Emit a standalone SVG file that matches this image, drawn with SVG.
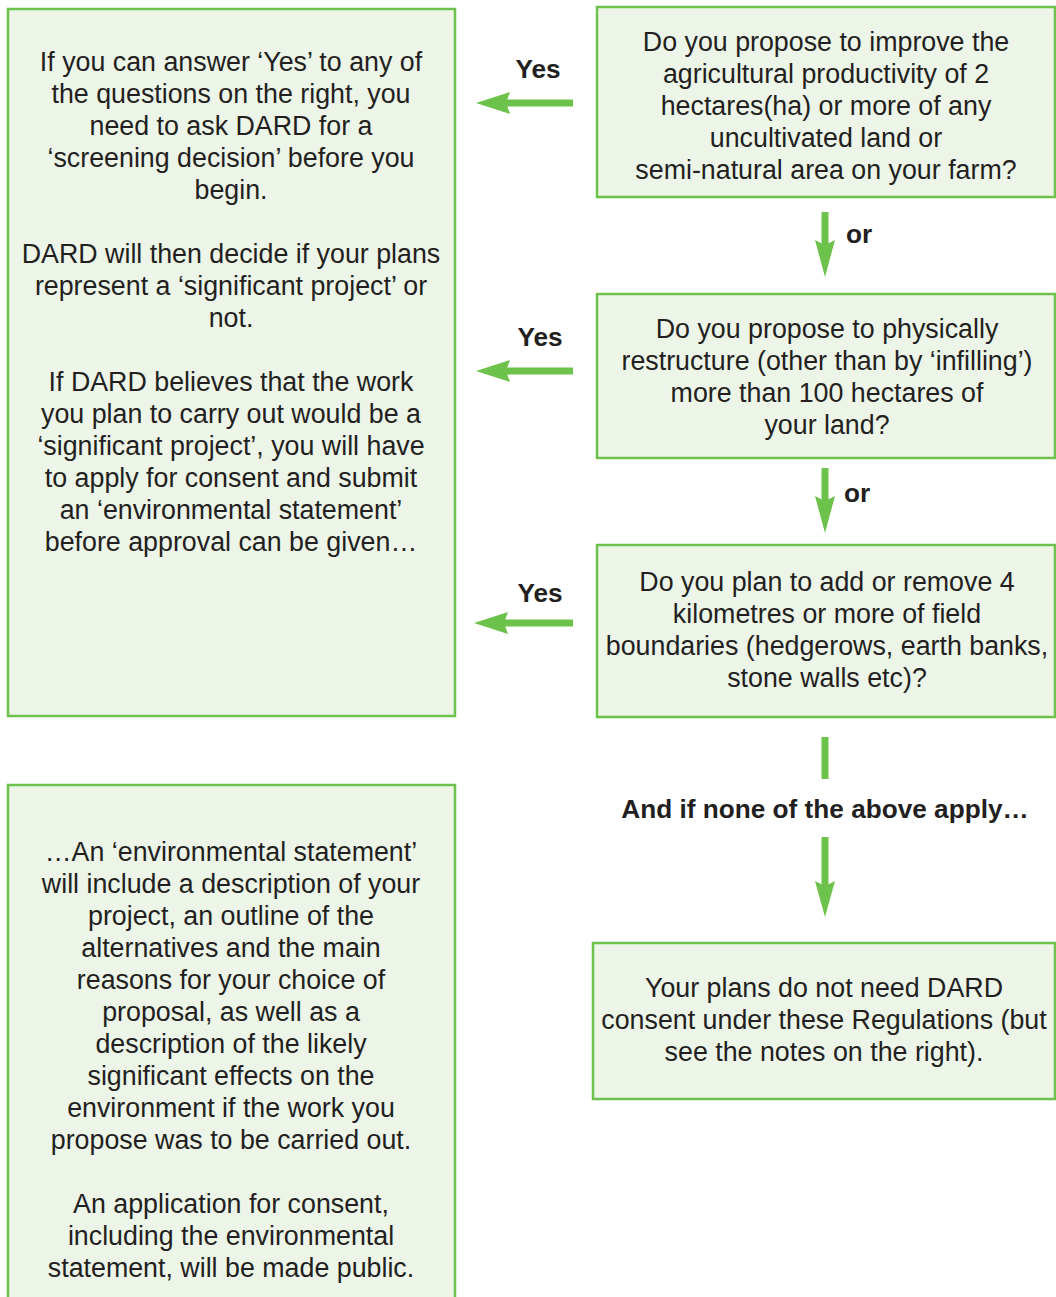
<svg xmlns="http://www.w3.org/2000/svg" width="1056" height="1297" viewBox="0 0 1056 1297">
<style>
.box{fill:#edf5e9;stroke:#6cc24a;stroke-width:2.5}
.t{font-family:"Liberation Sans",Arial,sans-serif;font-size:26.8px;fill:#231f20;text-anchor:middle}
.b{font-family:"Liberation Sans",Arial,sans-serif;font-size:26.2px;font-weight:bold;fill:#231f20;text-anchor:middle}
.ln{stroke:#6cc24a;stroke-width:7;fill:none}
.hd{fill:#6cc24a}
</style>
<rect width="1056" height="1297" fill="#ffffff"/>
<g id="left-top">
<rect class="box" x="8" y="9" width="447" height="707"/>
<text class="t"><tspan x="231" y="71">If you can answer ‘Yes’ to any of</tspan><tspan x="231" y="103">the questions on the right, you</tspan><tspan x="231" y="135">need to ask DARD for a</tspan><tspan x="231" y="167">‘screening decision’ before you</tspan><tspan x="231" y="199">begin.</tspan><tspan x="231" y="263">DARD will then decide if your plans</tspan><tspan x="231" y="295">represent a ‘significant project’ or</tspan><tspan x="231" y="327">not.</tspan><tspan x="231" y="391">If DARD believes that the work</tspan><tspan x="231" y="423">you plan to carry out would be a</tspan><tspan x="231" y="455">‘significant project’, you will have</tspan><tspan x="231" y="487">to apply for consent and submit</tspan><tspan x="231" y="519">an ‘environmental statement’</tspan><tspan x="231" y="551">before approval can be given…</tspan></text>
</g>
<g id="left-bottom">
<rect class="box" x="8" y="785" width="447" height="520"/>
<text class="t"><tspan x="231" y="861">…An ‘environmental statement’</tspan><tspan x="231" y="893">will include a description of your</tspan><tspan x="231" y="925">project, an outline of the</tspan><tspan x="231" y="957">alternatives and the main</tspan><tspan x="231" y="989">reasons for your choice of</tspan><tspan x="231" y="1021">proposal, as well as a</tspan><tspan x="231" y="1053">description of the likely</tspan><tspan x="231" y="1085">significant effects on the</tspan><tspan x="231" y="1117">environment if the work you</tspan><tspan x="231" y="1149">propose was to be carried out.</tspan><tspan x="231" y="1213">An application for consent,</tspan><tspan x="231" y="1245">including the environmental</tspan><tspan x="231" y="1277">statement, will be made public.</tspan></text>
</g>
<g id="q1">
<rect class="box" x="597" y="7" width="458" height="190"/>
<text class="t"><tspan x="826" y="51">Do you propose to improve the</tspan><tspan x="826" y="83">agricultural productivity of 2</tspan><tspan x="826" y="115">hectares(ha) or more of any</tspan><tspan x="826" y="147">uncultivated land or</tspan><tspan x="826" y="179">semi-natural area on your farm?</tspan></text>
</g>
<g id="q2">
<rect class="box" x="597" y="294" width="458" height="164"/>
<text class="t"><tspan x="827" y="338">Do you propose to physically</tspan><tspan x="827" y="370">restructure (other than by ‘infilling’)</tspan><tspan x="827" y="402">more than 100 hectares of</tspan><tspan x="827" y="434">your land?</tspan></text>
</g>
<g id="q3">
<rect class="box" x="597" y="545" width="458" height="172"/>
<text class="t"><tspan x="827" y="591">Do you plan to add or remove 4</tspan><tspan x="827" y="623">kilometres or more of field</tspan><tspan x="827" y="655">boundaries (hedgerows, earth banks,</tspan><tspan x="827" y="687">stone walls etc)?</tspan></text>
</g>
<g id="result">
<rect class="box" x="593" y="943" width="462" height="156"/>
<text class="t"><tspan x="824" y="997">Your plans do not need DARD</tspan><tspan x="824" y="1029">consent under these Regulations (but</tspan><tspan x="824" y="1061">see the notes on the right).</tspan></text>
</g>
<g id="connectors">
<line class="ln" x1="573" y1="103" x2="500" y2="103"/>
<path class="hd" d="M476,103 L510,92 L506,103 L510,114 Z"/>
<text class="b" x="538" y="78">Yes</text>
<line class="ln" x1="573" y1="371" x2="500" y2="371"/>
<path class="hd" d="M476,371 L510,360 L506,371 L510,382 Z"/>
<text class="b" x="540" y="346">Yes</text>
<line class="ln" x1="573" y1="623" x2="500" y2="623"/>
<path class="hd" d="M474,623 L508,612 L504,623 L508,634 Z"/>
<text class="b" x="540" y="602">Yes</text>
<line class="ln" x1="825" y1="212" x2="825" y2="250"/>
<path class="hd" d="M825,277 L815,240 L825,245 L835,240 Z"/>
<text class="b" x="859" y="243">or</text>
<line class="ln" x1="825" y1="468" x2="825" y2="505"/>
<path class="hd" d="M825,533 L815,496 L825,501 L835,496 Z"/>
<text class="b" x="857" y="502">or</text>
<line class="ln" x1="825" y1="737" x2="825" y2="779"/>
<text class="b" x="825" y="818">And if none of the above apply…</text>
<line class="ln" x1="825" y1="837" x2="825" y2="890"/>
<path class="hd" d="M825,917 L815,881 L825,886 L835,881 Z"/>
</g>
</svg>
